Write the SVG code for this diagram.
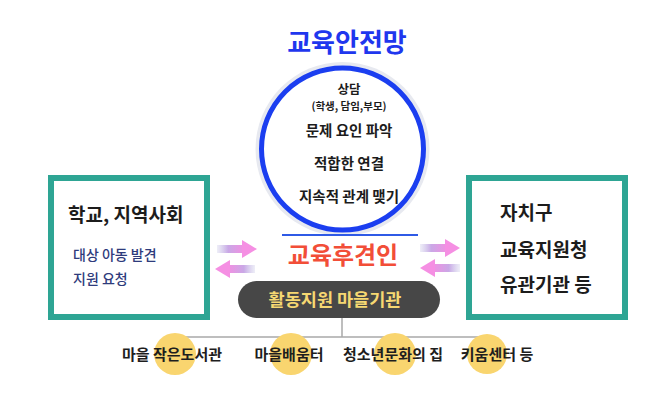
<svg xmlns="http://www.w3.org/2000/svg" width="658" height="405" viewBox="0 0 658 405">
<style>
  text { font-family: "Noto Sans CJK KR", "Noto Sans", sans-serif; font-weight: 700; }
  .mid { text-anchor: middle; }
  .box { fill: #ffffff; stroke: #2ea594; stroke-width: 6; }
  .dark { fill: #1c1c1c; }
  .navy { fill: #2e3b7c; font-weight: 500; }
  .dot { fill: #f9d56f; }
  .link { stroke: #a8a8a8; stroke-width: 1.5; fill: none; }
  .bottom { font-size: 15px; fill: #1e1e1e; font-weight: 700; }
</style>
<defs>
  <linearGradient id="shaft" x1="0" y1="0" x2="1" y2="0">
    <stop offset="0" stop-color="#c7c6e6" stop-opacity="0.3"/>
    <stop offset="0.4" stop-color="#c9a8e6"/>
    <stop offset="1" stop-color="#f48ee2"/>
  </linearGradient>
  <g id="arrowR">
    <rect x="0" y="-4" width="28" height="8" fill="url(#shaft)"/>
    <polygon points="25,-9 40,0 25,9" fill="#f58fe3"/>
  </g>
</defs>
<rect width="658" height="405" fill="#ffffff"/>

<g id="title">
  <text x="347" y="52" class="mid" font-size="26" fill="#1f37ee">교육안전망</text>
</g>

<g id="connectors">
  <line class="link" x1="342" y1="318" x2="342" y2="337"/>
  <line class="link" x1="175" y1="337" x2="487" y2="337"/>
  <use href="#arrowR" transform="translate(217,249)"/>
  <use href="#arrowR" transform="translate(255,269) scale(-1,1)"/>
  <use href="#arrowR" transform="translate(420,248)"/>
  <use href="#arrowR" transform="translate(460,268) scale(-1,1)"/>
</g>

<g id="net-circle">
  <circle cx="342.5" cy="149" r="87" fill="#e7e9f0"/>
  <circle cx="342.5" cy="149" r="81" fill="#ffffff" stroke="#1b3ef0" stroke-width="5"/>
  <line x1="282" y1="235" x2="418" y2="235" stroke="#2f5ae6" stroke-width="2"/>
  <text x="349" y="94" class="mid dark" font-size="12.5">상담</text>
  <text x="349" y="110" class="mid dark" font-size="10.5">(학생, 담임,부모)</text>
  <text x="349" y="136" class="mid dark" font-size="14.5">문제 요인 파악</text>
  <text x="349" y="169" class="mid dark" font-size="14.5">적합한 연결</text>
  <text x="349" y="202" class="mid dark" font-size="14.5">지속적 관계 맺기</text>
</g>

<g id="school-community">
  <rect class="box" x="51" y="178" width="156" height="139"/>
  <text x="68" y="222" class="dark" font-size="19">학교, 지역사회</text>
  <text x="73" y="260" class="navy" font-size="14">대상 아동 발견</text>
  <text x="73" y="284" class="navy" font-size="14">지원 요청</text>
</g>

<g id="district">
  <rect class="box" x="469" y="178" width="156" height="139"/>
  <text x="500" y="220" class="dark" font-size="19">자치구</text>
  <text x="500" y="257" class="dark" font-size="19">교육지원청</text>
  <text x="500" y="292" class="dark" font-size="19">유관기관 등</text>
</g>

<g id="guardian">
  <text x="343" y="264" class="mid" font-size="24" fill="#f24e38">교육후견인</text>
</g>

<g id="village-agency">
  <rect x="238" y="281" width="202" height="37" rx="18.5" fill="#474747"/>
  <text x="335" y="306" class="mid" font-size="17.5" fill="#f6d872" font-weight="500">활동지원 마을기관</text>
</g>

<g id="library">
  <circle class="dot" cx="175" cy="354" r="21"/>
  <text x="172" y="360" class="mid bottom">마을 작은도서관</text>
</g>
<g id="learning-center">
  <circle class="dot" cx="291" cy="354" r="21"/>
  <text x="289" y="360" class="mid bottom">마을배움터</text>
</g>
<g id="youth-house">
  <circle class="dot" cx="395" cy="354" r="21"/>
  <text x="393" y="360" class="mid bottom">청소년문화의 집</text>
</g>
<g id="kium-center">
  <circle class="dot" cx="487" cy="354" r="20"/>
  <text x="497" y="360" class="mid bottom">키움센터 등</text>
</g>
</svg>
